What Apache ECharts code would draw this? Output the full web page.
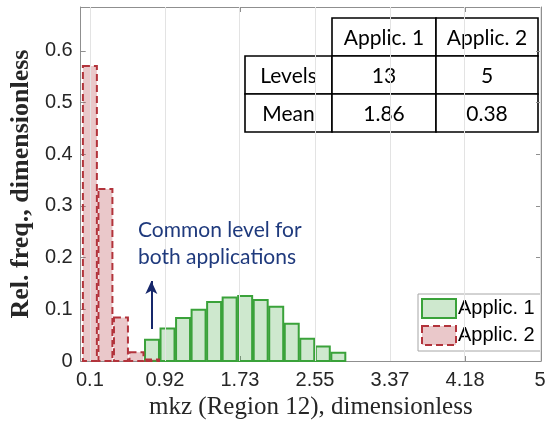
<!DOCTYPE html>
<html>
<head>
<meta charset="utf-8">
<script src="https://cdn.jsdelivr.net/npm/echarts@6/dist/echarts.min.js"></script>
<style>
  html, body { margin: 0; padding: 0; background: #ffffff; }
  #chart { width: 550px; height: 432px; }
</style>
</head>
<body>
<div id="chart"></div>
<script>
// Histogram bins (centre of each mkz level) and relative frequencies
const binWidth = 0.169;
const applic1Levels = [0.776, 0.945, 1.114, 1.283, 1.452, 1.621, 1.790, 1.959, 2.128, 2.297, 2.466, 2.635, 2.804];
const applic1Freq   = [0.041, 0.063, 0.083, 0.099, 0.114, 0.123, 0.126, 0.118, 0.105, 0.072, 0.043, 0.028, 0.016];
const applic2Levels = [0.100, 0.269, 0.438, 0.607, 0.776];
const applic2Freq   = [0.571, 0.333, 0.084, 0.017, 0.003];

const seriesNames = ['Applic. 1', 'Applic. 2'];
const xTickValues = [0.1, 0.9167, 1.7333, 2.55, 3.3667, 4.1833, 5];
const xTickLabels = ['0.1', '0.92', '1.73', '2.55', '3.37', '4.18', '5'];
const yTickValues = [0, 0.1, 0.2, 0.3, 0.4, 0.5, 0.6];
const yTickLabels = ['0', '0.1', '0.2', '0.3', '0.4', '0.5', '0.6'];

// Summary table
const tableHeader = ['Applic. 1', 'Applic. 2'];
const tableRows = [['Levels', '13', '5'], ['Mean', '1.86', '0.38']];

// Arrow marking the shared level
const commonLevel = 0.769;
const arrowFrom = 0.062;
const arrowTo = 0.155;

const AXIS_GRAY = '#8f8f8f';
const TEXT_DARK = '#262626';
const GREEN_EDGE = '#3aa23a';
const GREEN_FILL = 'rgba(58,162,58,0.25)';
const RED_EDGE = '#b2333b';
const RED_FILL = 'rgba(178,51,59,0.27)';
const RED_DASH = [7, 4];

function zip(xs, ys) { return xs.map((x, i) => [x, ys[i]]); }

function histBars(style) {
  return function (params, api) {
    const c = api.value(0), v = api.value(1);
    const half = binWidth * 0.45;
    const p0 = api.coord([c - half, v]);
    const p1 = api.coord([c + half, 0]);
    return {
      type: 'rect',
      shape: { x: p0[0], y: p0[1], width: p1[0] - p0[0], height: p1[1] - p0[1] },
      style: style
    };
  };
}

function lookup(values, labels) {
  return function (v) {
    for (let i = 0; i < values.length; i++) if (Math.abs(values[i] - v) < 1e-6) return labels[i];
    return '';
  };
}

// Table drawn as graphic cells
const tableX = [245, 332, 436, 538];
const tableY = [18, 56, 94, 132];
const tableFont = '21px Lato';
const tableChildren = [];
function cell(x0, x1, y0, y1, text) {
  tableChildren.push({
    type: 'rect',
    shape: { x: x0, y: y0, width: x1 - x0, height: y1 - y0 },
    style: { fill: '#ffffff', stroke: '#000000', lineWidth: 1.6 }
  });
  tableChildren.push({
    type: 'text',
    x: (x0 + x1) / 2, y: (y0 + y1) / 2 + 1,
    style: { text: text, font: tableFont, fill: '#000000', align: 'center', verticalAlign: 'middle' }
  });
}
tableHeader.forEach((h, j) => cell(tableX[j + 1], tableX[j + 2], tableY[0], tableY[1], h));
tableRows.forEach((row, i) => row.forEach((t, j) => cell(tableX[j], tableX[j + 1], tableY[i + 1], tableY[i + 2], t)));

const chart = echarts.init(document.getElementById('chart'), null, { renderer: 'canvas' });

const tickLabelStyle = { fontFamily: 'Liberation Sans', fontSize: 20, color: TEXT_DARK };

chart.setOption({
  animation: false,
  backgroundColor: '#ffffff',
  grid: { left: 79, right: 9, top: 7, bottom: 71 },
  xAxis: [{
    type: 'value', min: 0, max: 5.01, position: 'bottom',
    name: 'mkz (Region 12), dimensionless',
    nameLocation: 'middle', nameGap: 33,
    nameTextStyle: { fontFamily: 'Liberation Serif', fontSize: 25, color: TEXT_DARK },
    axisLine: { show: true, lineStyle: { color: AXIS_GRAY, width: 1 } },
    axisTick: { show: true, inside: true, length: 5, customValues: xTickValues, lineStyle: { color: AXIS_GRAY } },
    axisLabel: Object.assign({ margin: 9, customValues: xTickValues, formatter: lookup(xTickValues, xTickLabels) }, tickLabelStyle),
    splitLine: { show: false }
  }, {
    type: 'value', min: 0, max: 5.01, position: 'top',
    axisLine: { show: true, onZero: false, lineStyle: { color: AXIS_GRAY, width: 1 } },
    axisTick: { show: true, inside: true, length: 5, customValues: xTickValues, lineStyle: { color: AXIS_GRAY } },
    axisLabel: { show: false },
    splitLine: { show: false }
  }],
  yAxis: [{
    type: 'value', min: 0, max: 0.685, position: 'left',
    name: 'Rel. freq., dimensionless',
    nameLocation: 'middle', nameGap: 43,
    nameTextStyle: { fontFamily: 'Liberation Serif', fontSize: 26, fontWeight: 'bold', color: TEXT_DARK },
    axisLine: { show: true, lineStyle: { color: AXIS_GRAY, width: 1 } },
    axisTick: { show: true, inside: true, length: 5, customValues: yTickValues, lineStyle: { color: AXIS_GRAY } },
    axisLabel: Object.assign({ margin: 8, customValues: yTickValues, formatter: lookup(yTickValues, yTickLabels) }, tickLabelStyle),
    splitLine: { show: false }
  }, {
    type: 'value', min: 0, max: 0.685, position: 'right',
    axisLine: { show: true, onZero: false, lineStyle: { color: AXIS_GRAY, width: 1 } },
    axisTick: { show: true, inside: true, length: 5, customValues: yTickValues, lineStyle: { color: AXIS_GRAY } },
    axisLabel: { show: false },
    splitLine: { show: false }
  }],
  legend: {
    orient: 'vertical', left: 418, top: 294,
    padding: [4, 6, 5, 3], itemGap: 6, itemWidth: 34, itemHeight: 19,
    backgroundColor: '#ffffff', borderColor: '#a6a6a6', borderWidth: 1, borderRadius: 0,
    icon: 'rect',
    textStyle: { fontFamily: 'Liberation Sans', fontSize: 20, color: '#000000', padding: [0, 0, 0, -3] },
    data: [
      { name: seriesNames[0], itemStyle: { color: GREEN_FILL, borderColor: GREEN_EDGE, borderWidth: 2, borderType: 'solid' } },
      { name: seriesNames[1], itemStyle: { color: RED_FILL, borderColor: RED_EDGE, borderWidth: 2, borderType: RED_DASH } }
    ]
  },
  series: [{
    // vertical grid lines at the x ticks
    type: 'line', data: [], silent: true, z: 0,
    markLine: {
      silent: true, symbol: ['none', 'none'], label: { show: false },
      lineStyle: { color: '#e3e3e3', width: 1, type: 'solid' },
      data: xTickValues.map(v => ({ xAxis: v }))
    }
  }, {
    name: seriesNames[0], type: 'custom', z: 2,
    itemStyle: { color: GREEN_FILL, borderColor: GREEN_EDGE, borderWidth: 2 },
    renderItem: histBars({ fill: GREEN_FILL, stroke: GREEN_EDGE, lineWidth: 2 }),
    encode: { x: 0, y: 1 },
    data: zip(applic1Levels, applic1Freq)
  }, {
    name: seriesNames[1], type: 'custom', z: 3,
    itemStyle: { color: RED_FILL, borderColor: RED_EDGE, borderWidth: 2, borderType: RED_DASH },
    renderItem: histBars({ fill: RED_FILL, stroke: RED_EDGE, lineWidth: 2, lineDash: RED_DASH }),
    encode: { x: 0, y: 1 },
    data: zip(applic2Levels, applic2Freq)
  }, {
    // arrow pointing at the level shared by both applications
    type: 'line', data: [], silent: true, z: 4,
    markLine: {
      silent: true, symbol: ['none', 'arrow'], symbolSize: [9, 13], label: { show: false },
      lineStyle: { color: '#17286b', width: 2, type: 'solid' },
      data: [[{ coord: [commonLevel, arrowFrom] }, { coord: [commonLevel, arrowTo] }]]
    }
  }],
  graphic: [
    { type: 'group', children: tableChildren, z: 10 },
    {
      type: 'text', left: 138, top: 217, z: 10,
      style: { text: 'Common level for\nboth applications', font: '21px Lato', fill: '#1f3a7d', lineHeight: 27 }
    }
  ]
});
</script>
</body>
</html>
